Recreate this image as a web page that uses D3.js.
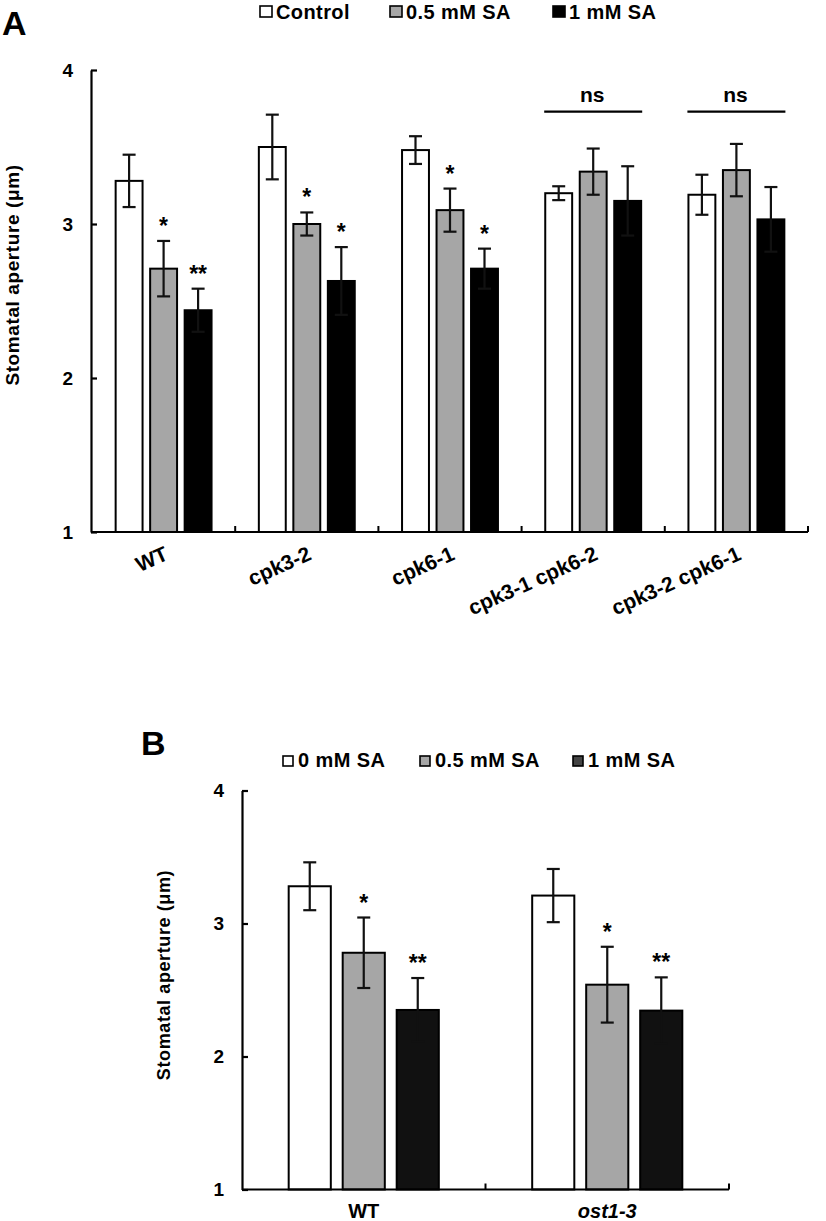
<!DOCTYPE html>
<html>
<head>
<meta charset="utf-8">
<script src="https://cdn.jsdelivr.net/npm/d3@7"></script>
<style>
  html, body { margin: 0; padding: 0; background: #fff; }
  svg text { font-family: "Liberation Sans", Arial, sans-serif; font-weight: bold; fill: #000; }
</style>
</head>
<body>
<svg id="chart" width="826" height="1221"></svg>
<script>
// ---------- Panel A data ----------
const groupsA = ["WT", "cpk3-2", "cpk6-1", "cpk3-1 cpk6-2", "cpk3-2 cpk6-1"];
const seriesA = ["Control", "0.5 mM SA", "1 mM SA"];
const controlA = [3.28, 3.50, 3.48, 3.20, 3.19];
const controlErrA = [0.17, 0.21, 0.09, 0.045, 0.13];
const sa05A = [2.71, 3.00, 3.09, 3.34, 3.35];
const sa05ErrA = [0.18, 0.075, 0.14, 0.15, 0.17];
const sa1A = [2.44, 2.63, 2.71, 3.15, 3.03];
const sa1ErrA = [0.14, 0.22, 0.13, 0.225, 0.21];
const sigControlA = ["", "", "", "", ""];
const sig05A = ["*", "*", "*", "", ""];
const sig1A = ["**", "*", "*", "", ""];
const nsGroupsA = ["cpk3-1 cpk6-2", "cpk3-2 cpk6-1"];
const yTicksA = [1, 2, 3, 4];

// ---------- Panel B data ----------
const groupsB = ["WT", "ost1-3"];
const seriesB = ["0 mM SA", "0.5 mM SA", "1 mM SA"];
const sa0B = [3.28, 3.21];
const sa0ErrB = [0.18, 0.20];
const sa05B = [2.78, 2.54];
const sa05ErrB = [0.265, 0.285];
const sa1B = [2.35, 2.345];
const sa1ErrB = [0.24, 0.25];
const sig0B = ["", ""];
const sig05B = ["*", "*"];
const sig1B = ["**", "**"];
const yTicksB = [1, 2, 3, 4];

const svg = d3.select("#chart");

function buildRows(groups, vals, errs, sigs, series) {
  const rows = [];
  groups.forEach((g, i) => {
    series.forEach((s, j) => {
      rows.push({ group: g, series: s, si: j, value: vals[j][i], err: errs[j][i], sig: sigs[j][i] });
    });
  });
  return rows;
}

function drawPanel(opts) {
  const g = svg.append("g");
  const x = d3.scaleBand().domain(opts.groups).range([opts.x0, opts.x1]).paddingInner(0).paddingOuter(0);
  const y = d3.scaleLinear().domain([1, 4]).range([opts.yBottom, opts.yTop]);
  const step = opts.barStep;
  const pi = 0.22;
  const sub = d3.scaleBand().domain(opts.series)
    .range([-step * (3 - pi) / 2, step * (3 - pi) / 2]).paddingInner(pi).paddingOuter(0);

  // bars
  const bars = g.append("g").selectAll("g.bar").data(opts.rows).join("g");
  bars.append("rect")
    .attr("x", d => x(d.group) + x.bandwidth() / 2 + sub(d.series))
    .attr("y", d => y(d.value))
    .attr("width", sub.bandwidth())
    .attr("height", d => y(1) - y(d.value))
    .attr("fill", d => opts.fills[d.si])
    .attr("stroke", "#000")
    .attr("stroke-width", 2);

  // error bars
  const cx = d => x(d.group) + x.bandwidth() / 2 + sub(d.series) + sub.bandwidth() / 2;
  const cap = opts.cap;
  const eb = g.append("g").selectAll("g").data(opts.rows).join("g")
    .attr("stroke", "#111").attr("stroke-width", 2.2).attr("fill", "none");
  eb.append("line").attr("x1", cx).attr("x2", cx)
    .attr("y1", d => y(d.value + d.err)).attr("y2", d => y(d.value - d.err));
  eb.append("line").attr("x1", d => cx(d) - cap / 2).attr("x2", d => cx(d) + cap / 2)
    .attr("y1", d => y(d.value + d.err)).attr("y2", d => y(d.value + d.err));
  eb.append("line").attr("x1", d => cx(d) - cap / 2).attr("x2", d => cx(d) + cap / 2)
    .attr("y1", d => y(d.value - d.err)).attr("y2", d => y(d.value - d.err));

  // significance
  g.append("g").selectAll("text").data(opts.rows.filter(d => d.sig)).join("text")
    .attr("x", cx).attr("y", d => y(d.value + d.err) - 7)
    .attr("text-anchor", "middle").style("font-size", "23px").text(d => d.sig);

  // y axis
  const yAxis = d3.axisLeft(y).tickValues(opts.yTicks).tickFormat(d3.format("d"))
    .tickSizeInner(-6).tickSizeOuter(0).tickPadding(18);
  const ya = g.append("g").attr("transform", `translate(${opts.yAxisX},0)`).call(yAxis);
  ya.select(".domain").attr("stroke", "#000").attr("stroke-width", 2.2);
  ya.selectAll(".tick line").attr("stroke", "#000").attr("stroke-width", 2.2);
  ya.selectAll(".tick text").style("font-size", "19px").attr("font-family", null).attr("fill", "#000");

  // x axis
  g.append("line").attr("x1", opts.yAxisX).attr("x2", opts.x1)
    .attr("y1", y(1)).attr("y2", y(1)).attr("stroke", "#000").attr("stroke-width", 2.2);
  const bounds = opts.groups.map(d => x(d) + x.bandwidth());
  g.append("g").selectAll("line").data(bounds).join("line")
    .attr("x1", d => d).attr("x2", d => d).attr("y1", y(1)).attr("y2", y(1) - 6)
    .attr("stroke", "#000").attr("stroke-width", 2);

  return { g, x, y };
}

// ---------- Panel A ----------
const rowsA = buildRows(groupsA, [controlA, sa05A, sa1A], [controlErrA, sa05ErrA, sa1ErrA],
  [sigControlA, sig05A, sig1A], seriesA);
const A = drawPanel({
  groups: groupsA, series: seriesA, rows: rowsA,
  x0: 92, x1: 808, yAxisX: 91, yBottom: 532, yTop: 70,
  barStep: 34.5, cap: 13, fills: ["#ffffff", "#a6a6a6", "#000000"], yTicks: yTicksA
});
// x labels A (rotated)
A.g.append("g").selectAll("text").data(groupsA).join("text")
  .attr("transform", d => `translate(${A.x(d) + A.x.bandwidth() / 2 + 6},559) rotate(-24)`)
  .attr("text-anchor", "end").style("font-size", "21px").text(d => d);
// ns annotations
nsGroupsA.forEach(gname => {
  const c = A.x(gname) + A.x.bandwidth() / 2;
  A.g.append("line").attr("x1", c - 49).attr("x2", c + 49)
    .attr("y1", A.y(3.73)).attr("y2", A.y(3.73)).attr("stroke", "#000").attr("stroke-width", 2.4);
  A.g.append("text").attr("x", c - 1).attr("y", A.y(3.73) - 10)
    .attr("text-anchor", "middle").style("font-size", "21px").text("ns");
});
// y title A
svg.append("text").attr("transform", "translate(19,275) rotate(-90)")
  .attr("text-anchor", "middle").style("font-size", "19px").style("letter-spacing", "0.6px")
  .text("Stomatal aperture (μm)");
// panel letter A
svg.append("text").attr("x", 2).attr("y", 35).style("font-size", "34px").text("A");
// legend A
const legA = svg.append("g");
const legAx = [260, 390, 553];
const fillsA = ["#ffffff", "#a6a6a6", "#000000"];
seriesA.forEach((s, i) => {
  legA.append("rect").attr("x", legAx[i]).attr("y", 6).attr("width", 12).attr("height", 11)
    .attr("fill", fillsA[i]).attr("stroke", "#000").attr("stroke-width", 1.6);
  legA.append("text").attr("x", legAx[i] + 16).attr("y", 18.5).style("font-size", "20px")
    .style("letter-spacing", "0.4px").text(s);
});

// ---------- Panel B ----------
const rowsB = buildRows(groupsB, [sa0B, sa05B, sa1B], [sa0ErrB, sa05ErrB, sa1ErrB],
  [sig0B, sig05B, sig1B], seriesB);
const B = drawPanel({
  groups: groupsB, series: seriesB, rows: rowsB,
  x0: 242, x1: 729, yAxisX: 242, yBottom: 1189.5, yTop: 790.5,
  barStep: 54, cap: 13, fills: ["#ffffff", "#a6a6a6", "#111111"], yTicks: yTicksB
});
B.g.append("g").selectAll("text").data(groupsB).join("text")
  .attr("x", d => B.x(d) + B.x.bandwidth() / 2).attr("y", 1218)
  .attr("text-anchor", "middle").style("font-size", "20px")
  .style("font-style", (d, i) => i === 1 ? "italic" : "normal").text(d => d);
svg.append("text").attr("transform", "translate(170,975) rotate(-90)")
  .attr("text-anchor", "middle").style("font-size", "18px").style("letter-spacing", "0.6px")
  .text("Stomatal aperture (μm)");
svg.append("text").attr("x", 141).attr("y", 755).style("font-size", "34px").text("B");
const legB = svg.append("g");
const legBx = [283, 420, 573];
const legBFill = ["#ffffff", "#a6a6a6", "#444444"];
seriesB.forEach((s, i) => {
  legB.append("rect").attr("x", legBx[i]).attr("y", 756).attr("width", 10).attr("height", 10)
    .attr("fill", legBFill[i]).attr("stroke", "#000").attr("stroke-width", 1.6);
  legB.append("text").attr("x", legBx[i] + 15).attr("y", 767).style("font-size", "20px")
    .style("letter-spacing", "0.4px").text(s);
});
</script>
</body>
</html>
